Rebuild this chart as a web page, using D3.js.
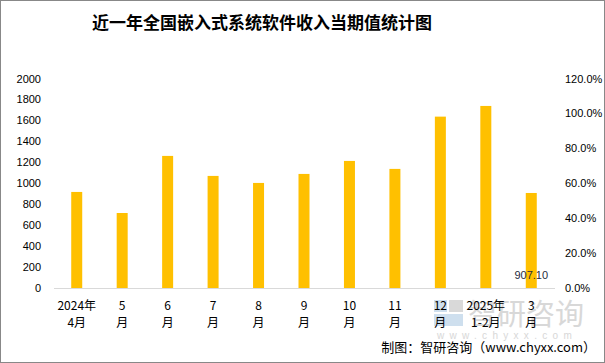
<!DOCTYPE html>
<html><head><meta charset="utf-8">
<script src="https://cdn.jsdelivr.net/npm/d3@7"></script>
<style>
html,body{margin:0;padding:0;background:#fff;}
svg text{font-family:"Liberation Sans","Noto Sans CJK SC",sans-serif;}
</style></head>
<body>
<svg id="c" width="605" height="363"></svg>
<script>
const titleText = "近一年全国嵌入式系统软件收入当期值统计图";
const categories = ["2024年\n4月","5\n月","6\n月","7\n月","8\n月","9\n月","10\n月","11\n月","12\n月","2025年\n1-2月","3\n月"];
const values = [917, 716, 1261, 1070, 1003, 1089, 1213, 1137, 1636, 1738, 907.10];
const leftTicks = [0,200,400,600,800,1000,1200,1400,1600,1800,2000];
const rightTicks = [0,0.2,0.4,0.6,0.8,1.0,1.2];
const labeledIndex = [10];

const svg = d3.select("#c");
const W = 605, H = 363;
svg.append("rect").attr("x",0.5).attr("y",0.5).attr("width",W-1).attr("height",H-1)
  .attr("fill","#fff").attr("stroke","#888").attr("stroke-width",1);

const m = {left:54, right:554, top:78.5, bottom:288};
const x = d3.scaleBand().domain(categories).range([m.left,m.right]).paddingInner(0.758).paddingOuter(0.379);
const y = d3.scaleLinear().domain([0,2000]).range([m.bottom,m.top]);
const y2 = d3.scaleLinear().domain([0,1.2]).range([m.bottom,m.top]);

// watermark
const wm = svg.append("g").attr("opacity",0.9);
wm.append("rect").attr("x",434).attr("y",300).attr("width",13).attr("height",12).attr("fill","#c9dced");
wm.append("rect").attr("x",449).attr("y",300).attr("width",14).attr("height",12).attr("fill","#d5d5d5");
wm.append("rect").attr("x",434).attr("y",314).attr("width",29).attr("height",12).attr("fill","#c9dced");
wm.append("text").attr("x",468).attr("y",325).attr("font-size",29).attr("fill","#d4d4d4")
  .style("font-family","Noto Sans CJK SC").text("智研咨询");
wm.append("text").attr("x",437).attr("y",339).attr("font-size",10).attr("fill","#d4d4d4")
  .attr("letter-spacing","5.3px").text("www.chyxx.com");

// bars
svg.append("g").selectAll("rect").data(values).join("rect")
  .attr("x",(d,i)=>x(categories[i])).attr("width",x.bandwidth())
  .attr("y",d=>y(d)).attr("height",d=>m.bottom-y(d)).attr("fill","#FFC000");

// axis line
svg.append("line").attr("x1",m.left).attr("x2",m.right+1).attr("y1",m.bottom+0.5).attr("y2",m.bottom+0.5)
  .attr("stroke","#d9d9d9").attr("stroke-width",1);

// left axis
const la = svg.append("g").attr("transform",`translate(${m.left},0)`)
  .call(d3.axisLeft(y).tickValues(leftTicks).tickSize(0).tickPadding(13).tickFormat(d3.format("d")));
la.select(".domain").remove();
la.selectAll("text").attr("font-size",11).attr("fill","#000");

// right axis
const ra = svg.append("g").attr("transform",`translate(${m.right},0)`)
  .call(d3.axisRight(y2).tickValues(rightTicks).tickSize(0).tickPadding(11).tickFormat(d3.format(".1%")));
ra.select(".domain").remove();
ra.selectAll("text").attr("font-size",11).attr("fill","#000");

// x labels
const xl = svg.append("g");
categories.forEach((c,i)=>{
  const lines = c.split("\n");
  const t = xl.append("text").attr("text-anchor","middle").attr("font-size",12).attr("fill","#000")
    .style("font-family","Noto Sans CJK SC");
  lines.forEach((ln,j)=>{
    t.append("tspan").attr("x",x(c)+x.bandwidth()/2).attr("y",310+j*17).text(ln);
  });
});

// value label
labeledIndex.forEach(i=>{
  svg.append("text").attr("x",x(categories[i])+x.bandwidth()/2).attr("y",279)
    .attr("text-anchor","middle").attr("font-size",11).attr("fill","#1f2d3d")
    .text(d3.format(".2f")(values[i]));
});

// title
svg.append("text").attr("x",262).attr("y",29).attr("text-anchor","middle")
  .attr("font-size",17).attr("font-weight","bold").attr("fill","#000")
  .style("font-family","Noto Sans CJK SC").text(titleText);

// source
svg.append("text").attr("x",596).attr("y",352).attr("text-anchor","end")
  .attr("font-size",13).attr("fill","#000").style("font-family","Noto Sans CJK SC")
  .text("制图：智研咨询（www.chyxx.com）");
</script>
</body></html>
